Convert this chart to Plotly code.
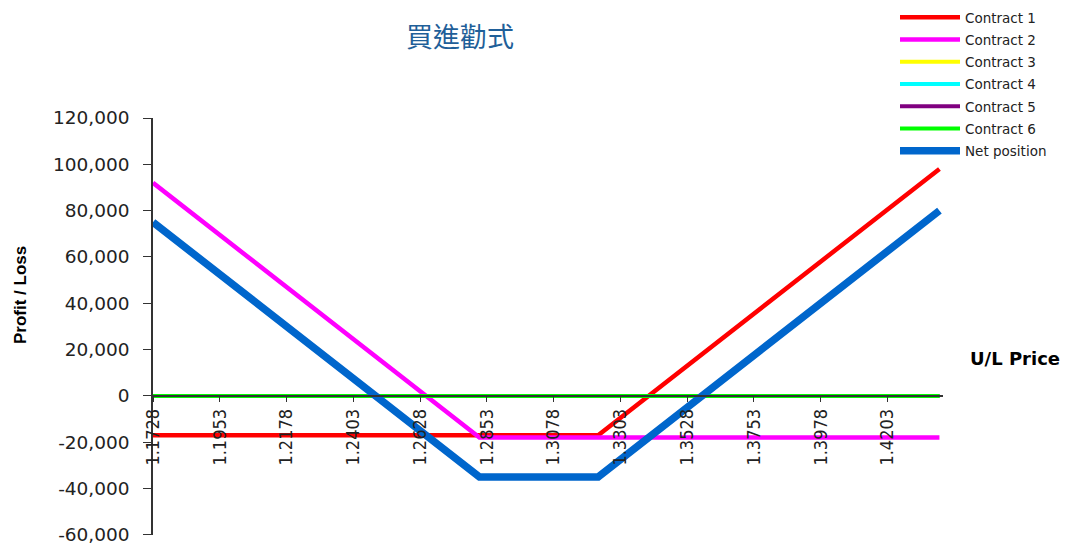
import plotly.graph_objects as go

# ---- data ----
title_text = "買進勸式"
x_tick_labels = ["1.1728", "1.1953", "1.2178", "1.2403", "1.2628", "1.2853",
                 "1.3078", "1.3303", "1.3528", "1.3753", "1.3978", "1.4203"]
y_tick_values = [-60000, -40000, -20000, 0, 20000, 40000, 60000, 80000, 100000, 120000]
y_tick_labels = ["-60,000", "-40,000", "-20,000", "0", "20,000", "40,000",
                 "60,000", "80,000", "100,000", "120,000"]

# breakpoints of each payoff line (U/L price, profit/loss)
c1_x = [1.1728, 1.3228, 1.4378]
c1_y = [-17000, -17000, 98000]
c2_x = [1.1728, 1.2828, 1.4378]
c2_y = [92000, -18000, -18000]
c3_x = [1.1728, 1.4378]
c3_y = [0, 0]
c4_x = [1.1728, 1.4378]
c4_y = [0, 0]
c5_x = [1.1728, 1.4378]
c5_y = [0, 0]
c6_x = [1.1728, 1.4378]
c6_y = [0, 0]
net_x = [1.1728, 1.2828, 1.3228, 1.4378]
net_y = [75000, -35000, -35000, 80000]

series = [
    ("Contract 1", c1_x, c1_y, "#FF0000", 4.5),
    ("Contract 2", c2_x, c2_y, "#FF00FF", 4.5),
    ("Contract 3", c3_x, c3_y, "#FFFF00", 4),
    ("Contract 4", c4_x, c4_y, "#00FFFF", 4),
    ("Contract 5", c5_x, c5_y, "#800080", 4),
    ("Contract 6", c6_x, c6_y, "#00FF00", 4),
    ("Net position", net_x, net_y, "#0066CC", 7.5),
]

fig = go.Figure()
for i, (name, xs, ys, col, w) in enumerate(series):
    fig.add_trace(go.Scatter(x=xs, y=ys, mode="lines", name=name,
                             legendgroup=f"g{i}",
                             line=dict(color=col, width=w)))

tick_vals = [float(t) for t in x_tick_labels]

PL, PR, PT, PB = 153, 943, 118, 535
PW, PH = PR - PL, PB - PT

fig.update_layout(
    width=1065, height=544,
    margin=dict(l=PL, r=1065 - PR, t=PT, b=544 - PB, autoexpand=False),
    paper_bgcolor="white", plot_bgcolor="white",
    showlegend=True,
    legend=dict(x=(895 - PL) / PW, xref="paper", y=(PB - 2) / PH, yref="paper",
                xanchor="left", yanchor="top",
                font=dict(family="DejaVu Sans", size=13.5, color="#222"),
                tracegroupgap=1.7, bgcolor="rgba(0,0,0,0)",
                itemwidth=60),
    title=dict(text=title_text, x=460 / 1065, xref="container", xanchor="center",
               y=1 - 38 / 544, yref="container", yanchor="middle",
               font=dict(family="Noto Sans CJK TC", size=27, color="#1F5F99")),
    xaxis=dict(range=[1.1728, 1.4390], tickvals=tick_vals, ticktext=x_tick_labels,
               tickangle=-90, ticks="outside", ticklen=5, tickcolor="#333",
               showline=True, linecolor="#333", linewidth=1.5,
               showgrid=False, zeroline=False, automargin=False,
               anchor="free", position=1 / 3,
               tickfont=dict(family="Liberation Sans Narrow, DejaVu Sans Condensed, Liberation Sans",
                             size=18, color="#222")),
    yaxis=dict(range=[-60060, 120000], tickvals=y_tick_values, ticktext=y_tick_labels,
               ticks="outside", ticklen=8, tickcolor="#333",
               showline=True, linecolor="#333", linewidth=1.5,
               showgrid=False, zeroline=False, ticklabelstandoff=10,
               ticklabeloverflow="allow", automargin=False,
               tickfont=dict(family="DejaVu Sans", size=18.5, color="#222")),
    annotations=[
        dict(text="<b>Profit / Loss</b>", xref="paper", yref="paper",
             x=(20 - PL) / PW, y=(PB - 295) / PH, textangle=-90,
             showarrow=False, xanchor="center", yanchor="middle",
             font=dict(family="Liberation Sans", size=17, color="#000")),
        dict(text="<b>U/L Price</b>", xref="paper", yref="paper",
             x=(968 - PL) / PW, y=(PB - 358) / PH,
             showarrow=False, xanchor="left", yanchor="middle",
             font=dict(family="DejaVu Sans", size=18, color="#000")),
    ],
)

fig.write_html("out.html")
